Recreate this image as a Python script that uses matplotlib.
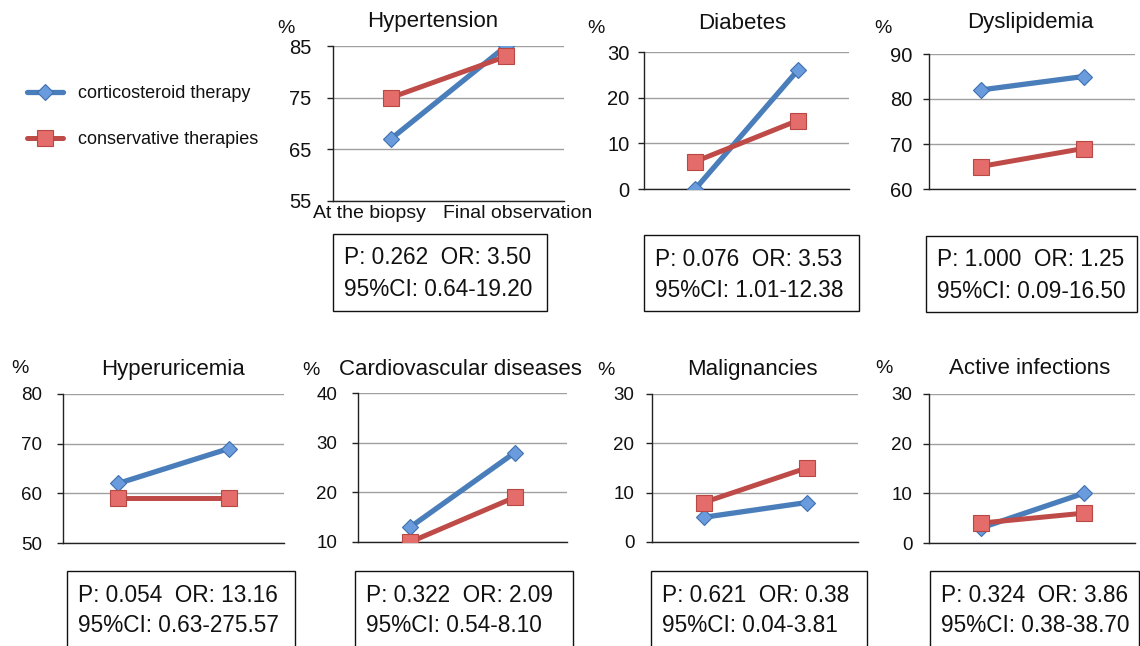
import matplotlib
matplotlib.use('Agg')
import matplotlib.pyplot as plt
from matplotlib.patches import Rectangle

plt.rcParams['font.family'] = ['Liberation Sans', 'DejaVu Sans']

W, H = 1140, 646

# ---- data ----
titles = ['Hypertension', 'Diabetes', 'Dyslipidemia', 'Hyperuricemia',
          'Cardiovascular diseases', 'Malignancies', 'Active infections']
time_points = ['At the biopsy', 'Final observation']
series_names = ['corticosteroid therapy', 'conservative therapies']
y_low = [55, 0, 60, 50, 10, 0, 0]
y_high = [85, 30, 90, 80, 40, 30, 30]
cortico = [[67, 85], [0, 26], [82, 85], [62, 69], [13, 28], [5, 8], [3, 10]]
conservative = [[75, 83], [6, 15], [65, 69], [59, 59], [10, 19], [8, 15], [4, 6]]
p_vals = ['0.262', '0.076', '1.000', '0.054', '0.322', '0.621', '0.324']
odds = ['3.50', '3.53', '1.25', '13.16', '2.09', '0.38', '3.86']
ci95 = ['0.64-19.20', '1.01-12.38', '0.09-16.50', '0.63-275.57',
        '0.54-8.10', '0.04-3.81', '0.38-38.70']

# ---- layout in pixels (x0, top, x1, bottom) ----
axes_px = [(333, 46, 564, 201), (644, 52, 849, 189), (929, 54, 1135, 189),
           (63, 394, 284, 543), (358, 393, 567, 542), (652, 394, 858, 542),
           (929, 394, 1135, 543)]
title_px = [(433, 27), (742, 29), (1030, 28), (173, 375), (460, 375),
            (752, 375), (1030, 374)]
pct_px = [(286, 33), (596, 33), (883, 33), (20, 373), (311, 375),
          (606, 375), (884, 373)]
box_px = [(333, 234, 547, 311), (644, 235, 859, 311), (926, 236, 1137, 312),
          (67, 571, 295, 660), (355, 571, 573, 660), (651, 571, 867, 660),
          (930, 571, 1139, 660)]
tick_fs = [14.5, 14.5, 14.5, 13.5, 13.5, 13.5, 13.5]
label_gap = [21, 14, 16, 20, 20, 17, 16]

BLUE = '#4A7EBB'
RED = '#BE4B48'
TXT = '#111111'


def fx(x):
    return x / W


def fy(y):
    return 1 - y / H


fig = plt.figure(figsize=(W / 100, H / 100), dpi=100)

handles = []
for i in range(len(titles)):
    x0, t, x1, b = axes_px[i]
    ax = fig.add_axes([fx(x0), fy(b), fx(x1 - x0), (b - t) / H])
    l1, = ax.plot(time_points, cortico[i], color=BLUE, lw=3.8,
                  marker='D', ms=8.5, mfc='#6A9BDC', mec='#3F70B0', mew=0.8,
                  zorder=3, solid_capstyle='round')
    l2, = ax.plot(time_points, conservative[i], color=RED, lw=3.6,
                  marker='s', ms=11, mfc='#E46C6A', mec='#B84845', mew=0.8,
                  zorder=4, solid_capstyle='round')
    if i == 0:
        handles = [l1, l2]
    ax.set_xlim(-0.5, 1.5)
    ax.set_ylim(y_low[i], y_high[i])
    ax.set_yticks(range(y_low[i], y_high[i] + 1, 10))
    ax.set_xticks([])
    ax.yaxis.grid(True, color='#A0A0A0', lw=1.0)
    ax.set_axisbelow(True)
    for s in ['top', 'right']:
        ax.spines[s].set_visible(False)
    ax.spines['left'].set_color('#222222')
    ax.spines['bottom'].set_color('#222222')
    ax.spines['left'].set_linewidth(1.0)
    ax.spines['bottom'].set_linewidth(1.0)
    ax.tick_params(axis='y', length=4, width=1, color='#222222',
                   labelsize=tick_fs[i], labelcolor=TXT,
                   pad=(label_gap[i] - 5) * 0.72)
    ax.set_facecolor('none')

    if i == 0:
        ax.text(0.156, -0.078, time_points[0], transform=ax.transAxes,
                ha='center', va='center', fontsize=14, color=TXT)
        ax.text(0.80, -0.078, time_points[1], transform=ax.transAxes,
                ha='center', va='center', fontsize=14, color=TXT)

    tx, ty = title_px[i]
    fig.text(fx(tx), fy(ty), titles[i], ha='center', va='baseline',
             fontsize=16, color=TXT)
    px, py = pct_px[i]
    fig.text(fx(px), fy(py), '%', ha='center', va='baseline',
             fontsize=14, color=TXT)

    bx0, bt, bx1, bb = box_px[i]
    fig.patches.append(Rectangle((fx(bx0), fy(bb)), fx(bx1 - bx0), (bb - bt) / H,
                                 transform=fig.transFigure, fill=False,
                                 edgecolor='#111111', lw=1.0))
    fig.text(fx(bx0 + 11), fy(bt + 24), f'P: {p_vals[i]}  OR: {odds[i]}',
             ha='left', va='center', fontsize=16.3, color=TXT)
    fig.text(fx(bx0 + 11), fy(bt + 55), f'95%CI: {ci95[i]}',
             ha='left', va='center', fontsize=16.3, color=TXT)

fig.legend(handles, series_names, loc='upper left',
           bbox_to_anchor=(fx(27), fy(85)), bbox_transform=fig.transFigure,
           frameon=False, fontsize=13, handlelength=2.0, handletextpad=0.85,
           labelspacing=1.6, borderpad=0, borderaxespad=0,
           labelcolor=TXT)

fig.savefig('out.png', dpi=100)
